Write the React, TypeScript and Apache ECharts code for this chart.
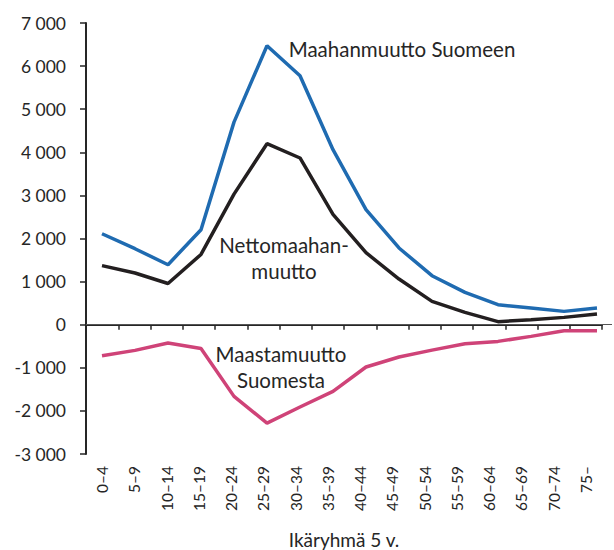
import React, { useEffect, useRef } from "react";
import * as echarts from "echarts";

const categories = ["0–4", "5–9", "10–14", "15–19", "20–24", "25–29", "30–34", "35–39", "40–44", "45–49", "50–54", "55–59", "60–64", "65–69", "70–74", "75–"];
const immigration = [2110, 1763, 1392, 2204, 4700, 6473, 5777, 4060, 2668, 1780, 1137, 750, 464, 387, 309, 387];
const netMigration = [1370, 1200, 955, 1630, 3030, 4200, 3868, 2560, 1670, 1060, 540, 285, 70, 116, 170, 248];
const emigration = [-719, -596, -425, -550, -1663, -2282, -1910, -1547, -982, -750, -590, -441, -387, -271, -139, -139];
const yMin = -3000;
const yMax = 7000;
const yStep = 1000;

const FONT = "Lato, 'Liberation Sans', sans-serif";
const TEXT = "#262626";

const fmt = (v: number) => {
  const s = Math.abs(v).toString().replace(/\B(?=(\d{3})+(?!\d))/g, " ");
  return (v < 0 ? "-" : "") + s;
};

export default function App() {
  const ref = useRef<HTMLDivElement>(null);
  useEffect(() => {
    if (!ref.current) return;
    const chart = echarts.init(ref.current, null, { renderer: "svg" });
    const top = 23;
    const bottom = 96;
    chart.setOption({
      animation: false,
      textStyle: { fontFamily: FONT },
      grid: [
        { left: 86, right: 12, top, bottom, outerBoundsMode: "none", containLabel: false },
        { left: 102, right: 17, top, bottom, outerBoundsMode: "none", containLabel: false },
        { left: 86, right: 2, top, bottom, outerBoundsMode: "none", containLabel: false },
      ],
      xAxis: [
        {
          type: "category",
          gridIndex: 0,
          data: categories,
          boundaryGap: true,
          axisLine: { lineStyle: { color: TEXT, width: 2 } },
          axisTick: { show: true, length: 5, lineStyle: { color: TEXT, width: 1.5 } },
          axisLabel: { rotate: 90, margin: 12, color: TEXT, fontSize: 15.5, fontFamily: FONT },
          name: "Ikäryhmä 5 v.",
          nameLocation: "middle",
          nameGap: 76,
          nameTextStyle: { color: TEXT, fontSize: 19, fontFamily: FONT },
        },
        { type: "category", gridIndex: 1, data: categories, boundaryGap: false, show: false },
        { type: "category", gridIndex: 2, data: categories, show: false },
      ],
      yAxis: [
        {
          type: "value",
          gridIndex: 0,
          min: yMin,
          max: yMax,
          interval: yStep,
          axisLine: { show: true, lineStyle: { color: TEXT, width: 2 } },
          axisTick: { show: true, length: 6, lineStyle: { color: TEXT, width: 1.5 } },
          splitLine: { show: false },
          axisLabel: { margin: 20, color: TEXT, fontSize: 17.5, fontFamily: FONT, formatter: (v: number) => fmt(v) },
        },
        { type: "value", gridIndex: 1, min: yMin, max: yMax, interval: yStep, show: false },
        { type: "value", gridIndex: 2, min: yMin, max: yMax, interval: yStep, show: false },
      ],
      series: [
        {
          type: "line",
          xAxisIndex: 2,
          yAxisIndex: 2,
          data: [],
          silent: true,
          markLine: {
            silent: true,
            symbol: "none",
            label: { show: false },
            lineStyle: { color: "#555555", width: 1, type: "solid" },
            data: [{ yAxis: 0 }],
          },
        },
        {
          name: "Maahanmuutto Suomeen",
          type: "line",
          xAxisIndex: 1,
          yAxisIndex: 1,
          data: immigration,
          symbol: "none",
          lineStyle: { color: "#1F6BB1", width: 3.5 },
        },
        {
          name: "Nettomaahanmuutto",
          type: "line",
          xAxisIndex: 1,
          yAxisIndex: 1,
          data: netMigration,
          symbol: "none",
          lineStyle: { color: "#231F20", width: 3.5 },
        },
        {
          name: "Maastamuutto Suomesta",
          type: "line",
          xAxisIndex: 1,
          yAxisIndex: 1,
          data: emigration,
          symbol: "none",
          lineStyle: { color: "#CF4378", width: 3.5 },
        },
      ],
      graphic: [
        {
          type: "text",
          x: 402,
          y: 49,
          style: { text: "Maahanmuutto Suomeen", fill: TEXT, font: `20.5px ${FONT}`, align: "center", verticalAlign: "middle" },
        },
        {
          type: "text",
          x: 284,
          y: 258,
          style: { text: "Nettomaahan-\nmuutto", fill: TEXT, font: `20.5px ${FONT}`, align: "center", verticalAlign: "middle", lineHeight: 26 },
        },
        {
          type: "text",
          x: 281,
          y: 367,
          style: { text: "Maastamuutto\nSuomesta", fill: TEXT, font: `20.5px ${FONT}`, align: "center", verticalAlign: "middle", lineHeight: 26 },
        },
      ],
    });
    return () => chart.dispose();
  }, []);
  return <div ref={ref} style={{ width: 614, height: 550, position: "absolute", left: 0, top: 0 }} />;
}
